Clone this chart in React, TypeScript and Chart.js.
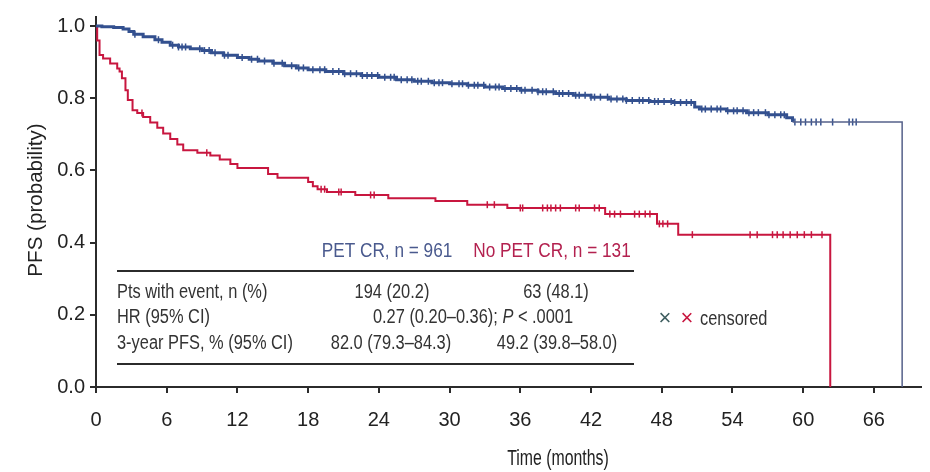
import React, { useEffect, useRef } from "react";
import { Chart, registerables } from "chart.js";

Chart.register(...registerables);

// ---------- data ----------
const X_TICKS = [0, 6, 12, 18, 24, 30, 36, 42, 48, 54, 60, 66];
const Y_TICKS = [0, 0.2, 0.4, 0.6, 0.8, 1.0];

const PET_CR_TIME = [0, 0.5, 1.5, 2.3, 2.8, 3.2, 4.0, 5.0, 5.6, 6.3, 7.0, 8.0, 9.0, 9.8, 10.8, 12.0, 13.0, 13.8, 15.0, 16.0, 17.0, 18.0, 19.5, 21.0, 22.5, 24.0, 25.5, 27.0, 28.5, 30.0, 31.5, 33.0, 34.5, 36.0, 37.5, 39.0, 40.5, 42.0, 43.5, 45.0, 47.0, 49.0, 50.8, 51.2, 53.5, 55.2, 57.0, 58.6, 59.1, 68.4];
const PET_CR_SURV = [1.0, 0.998, 0.996, 0.992, 0.985, 0.977, 0.970, 0.962, 0.955, 0.947, 0.942, 0.937, 0.932, 0.926, 0.919, 0.913, 0.908, 0.903, 0.897, 0.890, 0.884, 0.879, 0.874, 0.868, 0.863, 0.858, 0.851, 0.847, 0.843, 0.840, 0.836, 0.831, 0.827, 0.822, 0.818, 0.813, 0.808, 0.803, 0.798, 0.794, 0.791, 0.788, 0.776, 0.770, 0.765, 0.760, 0.754, 0.746, 0.734, 0];

const NO_PET_CR_TIME = [0, 0.1, 0.3, 0.6, 1.2, 1.8, 2.0, 2.2, 2.5, 2.7, 3.1, 3.5, 4.0, 4.6, 5.2, 5.7, 6.3, 6.9, 7.4, 8.6, 9.7, 10.5, 11.4, 12.0, 14.6, 15.4, 18.0, 18.4, 18.8, 19.6, 22.0, 24.8, 28.8, 31.5, 34.9, 43.2, 47.6, 49.4, 62.3];
const NO_PET_CR_SURV = [1.0, 0.96, 0.92, 0.91, 0.896, 0.882, 0.874, 0.855, 0.822, 0.795, 0.767, 0.759, 0.748, 0.733, 0.718, 0.702, 0.687, 0.672, 0.656, 0.649, 0.641, 0.630, 0.618, 0.607, 0.590, 0.580, 0.568, 0.556, 0.548, 0.540, 0.532, 0.523, 0.515, 0.505, 0.496, 0.479, 0.452, 0.422, 0];

const PET_CR_CENSOR = [3.3, 5.3, 6.5, 7.0, 7.3, 7.6, 8.8, 9.2, 9.6, 10.1, 10.9, 11.2, 12.4, 13.2, 13.7, 14.3, 15.1, 15.8, 16.6, 17.2, 17.6, 18.4, 19.0, 19.4, 20.1, 20.6, 21.1, 21.6, 22.1, 22.6, 23.0, 23.4, 23.9, 24.5, 25.0, 25.3, 25.9, 26.4, 26.8, 27.3, 27.6, 28.2, 28.7, 29.1, 29.4, 30.2, 30.8, 31.1, 31.6, 32.1, 32.4, 32.9, 33.4, 33.9, 34.2, 34.7, 35.2, 35.7, 36.1, 36.4, 37.0, 37.5, 37.9, 38.2, 38.8, 39.3, 39.6, 40.1, 40.7, 41.0, 41.5, 42.0, 42.3, 42.8, 43.4, 43.7, 44.2, 44.7, 45.0, 45.5, 46.1, 46.4, 46.9, 47.4, 47.7, 48.2, 48.8, 49.1, 49.6, 50.1, 50.5, 51.4, 51.7, 52.2, 52.7, 53.0, 53.6, 54.1, 54.4, 54.9, 55.4, 55.8, 56.2, 56.8, 57.1, 57.6, 58.1, 58.4, 59.3, 59.8, 60.2, 60.7, 61.1, 61.5, 62.5, 63.9, 64.2, 64.5];
const NO_PET_CR_CENSOR = [3.9, 9.4, 19.1, 19.4, 20.6, 20.8, 23.3, 23.6, 33.2, 33.8, 36.0, 36.2, 37.9, 38.3, 38.6, 39.0, 39.4, 40.7, 41.0, 42.3, 42.7, 43.6, 44.0, 44.5, 45.7, 46.1, 46.6, 47.0, 47.8, 48.1, 48.5, 50.6, 55.5, 56.1, 57.4, 57.8, 58.3, 58.9, 59.5, 60.1, 60.7, 61.6];

const SERIES_NAMES = ["PET CR, n = 961", "No PET CR, n = 131"];
const ROW_LABELS = ["Pts with event, n (%)", "HR (95% CI)", "3-year PFS, % (95% CI)"];
const EVENTS = ["194 (20.2)", "63 (48.1)"];
const HR_TEXT = ["0.27 (0.20–0.36); ", "P", " < .0001"];
const PFS3 = ["82.0 (79.3–84.3)", "49.2 (39.8–58.0)"];
const CENSOR_LABEL = "censored";
const X_TITLE = "Time (months)";
const Y_TITLE = "PFS (probability)";

// ---------- styles ----------
const BLUE = "#33508f";
const RED = "#c8163f";
const INK = "#2b2b2b";
const FONT = '"Liberation Sans", Arial, sans-serif';
const SX = 0.82;

function survAt(times: number[], surv: number[], t: number) {
  let v = surv[0];
  for (let i = 0; i < times.length; i++) {
    if (times[i] <= t) v = surv[i];
    else break;
  }
  return v;
}

function kmPoints(times: number[], surv: number[]) {
  return times.map((t, i) => ({ x: t, y: surv[i] }));
}

function censorPoints(c: number[], times: number[], surv: number[]) {
  return c.map((t) => ({ x: t, y: survAt(times, surv, t) }));
}

function txt(ctx: CanvasRenderingContext2D, s: string, x: number, y: number, size: number, color: string, align: CanvasTextAlign = "left", sx = SX, style = "") {
  ctx.save();
  ctx.font = `${style} ${size}px ${FONT}`;
  ctx.fillStyle = color;
  ctx.textBaseline = "middle";
  ctx.textAlign = align;
  ctx.translate(x, y);
  ctx.scale(sx, 1);
  ctx.fillText(s, 0, 0);
  ctx.restore();
}

function measure(ctx: CanvasRenderingContext2D, s: string, size: number, style = "") {
  ctx.save();
  ctx.font = `${style} ${size}px ${FONT}`;
  const w = ctx.measureText(s).width * SX;
  ctx.restore();
  return w;
}

const overlay = {
  id: "overlay",
  afterDraw(chart: any) {
    const ctx: CanvasRenderingContext2D = chart.ctx;
    // legend header
    txt(ctx, SERIES_NAMES[0], 387, 251, 21, "#4a5a8e", "center");
    txt(ctx, SERIES_NAMES[1], 552, 251, 21, "#b3214f", "center");
    // table lines
    ctx.save();
    ctx.strokeStyle = INK;
    ctx.lineWidth = 2;
    ctx.beginPath();
    ctx.moveTo(117, 271);
    ctx.lineTo(634, 271);
    ctx.moveTo(117, 364);
    ctx.lineTo(634, 364);
    ctx.stroke();
    ctx.restore();
    // rows
    const rowY = [292, 317, 343];
    ROW_LABELS.forEach((r, i) => txt(ctx, r, 117, rowY[i], 20, "#333", "left"));
    txt(ctx, EVENTS[0], 392, rowY[0], 20, "#333", "center");
    txt(ctx, EVENTS[1], 556, rowY[0], 20, "#333", "center");
    // HR row with italic P
    const w0 = measure(ctx, HR_TEXT[0], 20);
    const w1 = measure(ctx, HR_TEXT[1], 20, "italic");
    const w2 = measure(ctx, HR_TEXT[2], 20);
    let hx = 473 - (w0 + w1 + w2) / 2;
    txt(ctx, HR_TEXT[0], hx, rowY[1], 20, "#333", "left");
    hx += w0;
    txt(ctx, HR_TEXT[1], hx, rowY[1], 20, "#333", "left", SX, "italic");
    hx += w1;
    txt(ctx, HR_TEXT[2], hx, rowY[1], 20, "#333", "left");
    txt(ctx, PFS3[0], 391, rowY[2], 20, "#333", "center");
    txt(ctx, PFS3[1], 557, rowY[2], 20, "#333", "center");
    // censored key
    txt(ctx, "×", 665, 319, 22, "#3f5e60", "center", 1);
    txt(ctx, "×", 687, 319, 22, RED, "center", 1);
    txt(ctx, CENSOR_LABEL, 700, 319, 20, "#333", "left");
    // axis titles
    txt(ctx, X_TITLE, 558, 459, 22, "#222", "center", 0.72);
    ctx.save();
    ctx.translate(36, 200);
    ctx.rotate(-Math.PI / 2);
    txt(ctx, Y_TITLE, 0, 0, 21, "#222", "center", 0.98);
    ctx.restore();
  },
};

export default function App() {
  const ref = useRef<HTMLCanvasElement | null>(null);
  useEffect(() => {
    document.body.style.margin = "0";
    const canvas = ref.current!;
    const chart = new Chart(canvas, {
      type: "scatter",
      data: {
        datasets: [
          {
            label: SERIES_NAMES[0],
            data: kmPoints(PET_CR_TIME, PET_CR_SURV),
            showLine: true,
            stepped: true,
            borderColor: BLUE,
            borderWidth: 3,
            pointRadius: 0,
            segment: {
              borderColor: (c: any) => (c.p0.parsed.x >= 59 ? "#55618a" : undefined),
              borderWidth: (c: any) => (c.p0.parsed.x >= 59 ? 1.5 : undefined),
            },
          } as any,
          {
            label: SERIES_NAMES[1],
            data: kmPoints(NO_PET_CR_TIME, NO_PET_CR_SURV),
            showLine: true,
            stepped: true,
            borderColor: RED,
            borderWidth: 2,
            pointRadius: 0,
          } as any,
          {
            label: "PET CR censored",
            data: censorPoints(PET_CR_CENSOR, PET_CR_TIME, PET_CR_SURV),
            showLine: false,
            pointStyle: "line",
            rotation: 90,
            pointRadius: 3.5,
            borderWidth: 1.5,
            borderColor: BLUE,
            backgroundColor: BLUE,
          } as any,
          {
            label: "No PET CR censored",
            data: censorPoints(NO_PET_CR_CENSOR, NO_PET_CR_TIME, NO_PET_CR_SURV),
            showLine: false,
            pointStyle: "line",
            rotation: 90,
            pointRadius: 3.5,
            borderWidth: 1.5,
            borderColor: RED,
            backgroundColor: RED,
          } as any,
        ],
      },
      options: {
        animation: false,
        responsive: false,
        devicePixelRatio: 1,
        layout: { padding: { top: 13, right: 9, left: 0, bottom: 0 } },
        plugins: {
          legend: { display: false },
          tooltip: { enabled: false },
        },
        scales: {
          x: {
            type: "linear",
            min: 0,
            max: 70,
            afterBuildTicks: (s: any) => {
              s.ticks = X_TICKS.map((v) => ({ value: v }));
            },
            afterFit: (s: any) => {
              s.height = 85;
            },
            ticks: {
              color: "#222",
              font: { family: FONT, size: 20 },
              padding: 15,
              maxRotation: 0,
              autoSkip: false,
              callback: (v: any) => String(v),
            },
            grid: { drawOnChartArea: false, drawTicks: true, tickLength: 6, color: INK, lineWidth: 2 },
            border: { display: true, color: INK, width: 2 },
          },
          y: {
            type: "linear",
            min: 0,
            max: 1.025,
            afterBuildTicks: (s: any) => {
              s.ticks = Y_TICKS.map((v) => ({ value: v }));
            },
            afterFit: (s: any) => {
              s.width = 96;
            },
            ticks: {
              color: "#222",
              font: { family: FONT, size: 20 },
              padding: 5,
              autoSkip: false,
              callback: (v: any) => Number(v).toFixed(1),
            },
            grid: { drawOnChartArea: false, drawTicks: true, tickLength: 6, color: INK, lineWidth: 2 },
            border: { display: true, color: INK, width: 2 },
          },
        },
      },
      plugins: [overlay],
    });
    return () => chart.destroy();
  }, []);
  return (
    <div style={{ position: "absolute", left: 0, top: 0, width: 930, height: 472, background: "#fff" }}>
      <canvas ref={ref} width={930} height={472} style={{ display: "block", width: 930, height: 472 }} />
    </div>
  );
}
